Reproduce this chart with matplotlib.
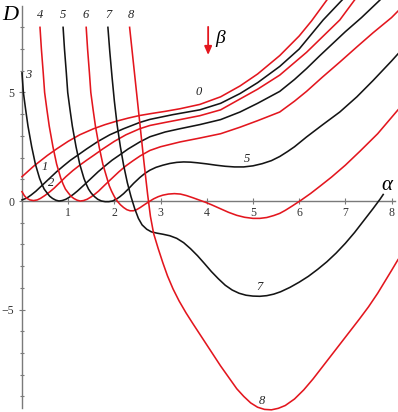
import matplotlib
matplotlib.use("Agg")
import matplotlib.pyplot as plt

RED = "#e3161e"
BLACK = "#141414"
AXIS = "#7a7a7a"

# curve beta = 0 .. 8 (alpha, D)
a0 = [0, 0.25, 0.55, 0.75, 1.0, 1.25, 1.55, 1.8, 2.05, 2.3, 2.55, 2.8, 3.1, 3.42, 3.85, 4.3, 4.72, 5.1, 5.58, 6.0, 6.27, 6.6, 6.7]
d0 = [1.12, 1.6, 2.1, 2.4, 2.75, 3.05, 3.33, 3.52, 3.68, 3.82, 3.94, 4.03, 4.13, 4.25, 4.45, 4.8, 5.3, 5.85, 6.7, 7.6, 8.3, 9.26, 9.5]

a1 = [0, 0.1, 0.2, 0.3, 0.45, 0.6, 0.75, 0.9, 1.05, 1.2, 1.4, 1.65, 1.9, 2.2, 2.55, 2.77, 3.27, 3.85, 4.3, 4.72,
      5.1, 5.58, 6.0, 6.52, 6.93, 7.0]
d1 = [0.05, 0.13, 0.28, 0.45, 0.75, 1.05, 1.35, 1.62, 1.88, 2.1, 2.4, 2.75, 3.05, 3.33, 3.62, 3.76, 3.98, 4.2, 4.5, 4.95,
      5.45, 6.2, 7.0, 8.34, 9.26, 9.4]

a2 = [0, 0.05, 0.1, 0.17, 0.25, 0.33, 0.4, 0.5, 0.6, 0.7, 0.82, 0.95, 1.1, 1.25, 1.4, 1.55, 1.75, 2.0, 2.25, 2.55,
      2.77, 3.1, 3.42, 3.85, 4.3, 4.72, 5.1, 5.58, 6.16, 6.88, 7.2, 7.3]
d2 = [0.43, 0.25, 0.13, 0.05, 0.02, 0.05, 0.12, 0.26, 0.42, 0.6, 0.85, 1.12, 1.4, 1.65, 1.88, 2.1, 2.4, 2.75, 3.05, 3.33,
      3.48, 3.62, 3.75, 3.93, 4.2, 4.7, 5.15, 5.8, 6.85, 8.34, 9.26, 9.5]

a3 = [0, 0.03, 0.08, 0.13, 0.21, 0.29, 0.38, 0.43, 0.48, 0.54, 0.6, 0.66, 0.73, 0.8, 0.87, 0.95, 1.03, 1.12, 1.2,
      1.35, 1.5, 1.65, 1.8, 1.95, 2.1, 2.3, 2.55, 2.77, 3.1, 3.42, 3.85, 4.3, 4.72, 5.1, 5.58, 5.9, 6.16, 6.45,
      6.7, 7.0, 7.35, 7.75, 7.85]
d3 = [5.9, 5.0, 4.2, 3.45, 2.5, 1.7, 1.05, 0.78, 0.55, 0.38, 0.22, 0.12, 0.04, 0.0, 0.02, 0.08, 0.18, 0.32, 0.46,
      0.75, 1.05, 1.35, 1.62, 1.88, 2.1, 2.4, 2.72, 2.96, 3.18, 3.33, 3.52, 3.75, 4.1, 4.5, 5.05, 5.6, 6.1, 6.7,
      7.2, 7.8, 8.45, 9.26, 9.5]

a4 = [0.39, 0.42, 0.46, 0.49, 0.54, 0.59, 0.67, 0.75, 0.84, 0.89, 0.94, 1.0, 1.06, 1.12, 1.19, 1.26, 1.33, 1.41,
      1.49, 1.58, 1.66, 1.8, 1.95, 2.1, 2.25, 2.4, 2.56, 2.77, 3.0, 3.42, 3.85, 4.3, 4.72, 5.1, 5.58, 5.9, 6.16,
      6.5, 6.88, 7.25, 7.6, 8.0, 8.14]
d4 = [8.0, 7.0, 5.9, 5.0, 4.2, 3.45, 2.5, 1.7, 1.05, 0.78, 0.55, 0.38, 0.22, 0.12, 0.04, 0.0, 0.02, 0.08,
      0.18, 0.32, 0.46, 0.75, 1.05, 1.35, 1.62, 1.85, 2.08, 2.33, 2.5, 2.72, 2.9, 3.1, 3.4, 3.7, 4.1, 4.6, 5.05,
      5.7, 6.4, 7.1, 7.75, 8.45, 8.75]

a5 = [0.89, 0.92, 0.96, 0.99, 1.04, 1.09, 1.17, 1.25, 1.34, 1.39, 1.44, 1.5, 1.57, 1.64, 1.72, 1.8, 1.88, 1.96,
      2.04, 2.12, 2.2, 2.3, 2.42, 2.55, 2.66, 2.77, 2.9, 3.05, 3.2, 3.35, 3.5, 3.65, 3.8, 4.0, 4.2, 4.4, 4.6,
      4.8, 5.0, 5.2, 5.4, 5.58, 5.75, 5.9, 6.16, 6.5, 6.88, 7.25, 7.6, 8.0, 8.14]
d5 = [8.0, 7.0, 5.9, 5.0, 4.2, 3.45, 2.5, 1.7, 1.05, 0.78, 0.55, 0.36, 0.2, 0.08, 0.0, -0.03, -0.03, 0.0,
      0.08, 0.2, 0.34, 0.55, 0.82, 1.08, 1.27, 1.42, 1.55, 1.65, 1.73, 1.78, 1.8, 1.79, 1.76, 1.71, 1.65, 1.6, 1.57,
      1.57, 1.62, 1.72, 1.86, 2.05, 2.28, 2.5, 2.95, 3.5, 4.1, 4.8, 5.55, 6.45, 6.78]

a6 = [1.39, 1.42, 1.46, 1.49, 1.54, 1.59, 1.67, 1.75, 1.84, 1.89, 1.94, 2.0, 2.06, 2.13, 2.2, 2.27, 2.34, 2.41,
      2.48, 2.56, 2.65, 2.75, 2.85, 2.95, 3.05, 3.17, 3.3, 3.43, 3.56, 3.7, 3.83, 3.96, 4.1, 4.29, 4.47, 4.65,
      4.82, 5.0, 5.15, 5.3, 5.45, 5.58, 5.7, 5.85, 6.05, 6.25, 6.45, 6.7, 7.0, 7.32, 7.7, 8.0, 8.14]
d6 = [8.0, 7.0, 5.9, 5.0, 4.2, 3.45, 2.5, 1.7, 1.05, 0.7, 0.45, 0.2, 0.0, -0.17, -0.3, -0.4, -0.45, -0.45,
      -0.4, -0.3, -0.17, -0.03, 0.1, 0.2, 0.27, 0.32, 0.34, 0.32, 0.25, 0.15, 0.05, -0.05, -0.17, -0.35, -0.52, -0.66,
      -0.75, -0.8, -0.8, -0.76, -0.67, -0.57, -0.43, -0.23, 0.05, 0.35, 0.68, 1.1, 1.65, 2.3, 3.1, 3.85, 4.2]

a7 = [1.86, 1.9, 1.95, 2.0, 2.06, 2.13, 2.2, 2.28, 2.36, 2.44, 2.52, 2.6, 2.7, 2.8, 2.92, 3.05, 3.2, 3.35, 3.5,
      3.65, 3.8, 3.95, 4.1, 4.25, 4.4, 4.55, 4.7, 4.85, 5.0, 5.15, 5.3, 5.45, 5.6, 5.8, 6.0, 6.2, 6.4, 6.6, 6.8,
      7.0, 7.2, 7.4, 7.6, 7.75, 7.82]
d7 = [8.0, 6.9, 5.7, 4.6, 3.5, 2.5, 1.65, 0.85, 0.2, -0.35, -0.8, -1.1, -1.3, -1.42, -1.48, -1.53, -1.6, -1.72, -1.92,
      -2.2, -2.52, -2.88, -3.25, -3.58, -3.88, -4.1, -4.25, -4.34, -4.38, -4.39, -4.36, -4.29, -4.18, -3.98, -3.74,
      -3.47, -3.15, -2.8, -2.4, -1.95, -1.45, -0.9, -0.35, 0.08, 0.3]

a8 = [2.33, 2.4, 2.48, 2.56, 2.64, 2.72, 2.78, 2.85, 2.95, 3.05, 3.15, 3.27, 3.4, 3.55, 3.7, 3.9, 4.1, 4.3, 4.5,
      4.65, 4.8, 4.95, 5.1, 5.25, 5.4, 5.55, 5.7, 5.9, 6.1, 6.3, 6.5, 6.7, 6.9, 7.1, 7.3, 7.5, 7.7, 7.9, 8.0, 8.14]
d8 = [8.0, 6.6, 5.0, 3.4, 1.8, 0.3, -0.7, -1.5, -2.2, -2.85, -3.45, -4.05, -4.6, -5.15, -5.65, -6.3, -6.95, -7.6, -8.2,
      -8.65, -9.0, -9.3, -9.5, -9.6, -9.62, -9.55, -9.42, -9.12, -8.7, -8.2, -7.65, -7.1, -6.55, -6.0, -5.45, -4.88,
      -4.25, -3.55, -3.2, -2.7]

curves = [(a0, d0), (a1, d1), (a2, d2), (a3, d3), (a4, d4), (a5, d5), (a6, d6), (a7, d7), (a8, d8)]
colors = [RED, BLACK] * 5

# curve labels: text, alpha, D
labels = [("0", 3.82, 5.04), ("1", 0.5, 1.58), ("2", 0.64, 0.82), ("3", 0.14, 5.8),
          ("4", 0.39, 8.57), ("5", 0.89, 8.57), ("6", 1.38, 8.57), ("7", 1.87, 8.57), ("8", 2.36, 8.57),
          ("5", 4.86, 1.95), ("7", 5.15, -3.95), ("8", 5.19, -9.2)]

xticks = [1, 2, 3, 4, 5, 6, 7, 8]
yticks = [-5, 0, 5]
yminor = [-9, -8, -7, -6, -4, -3, -2, -1, 1, 2, 3, 4, 6, 7, 8]

SERIF = ["Liberation Serif", "DejaVu Serif"]

fig = plt.figure(figsize=(3.98, 4.12), dpi=100)
ax = fig.add_axes([0, 0, 1, 1])
ax.set_xlim(-0.476, 8.14)
ax.set_ylim(-9.72, 9.26)

for (a, d), c in zip(curves, colors):
    ax.plot(a, d, color=c, lw=1.15, solid_joinstyle="round", zorder=3)

for s, x, y in labels:
    ax.text(x, y, s, fontsize=9, family=SERIF, style="italic", ha="center", va="center", color="#222222", zorder=4)

for side in ["top", "right"]:
    ax.spines[side].set_visible(False)
ax.spines["left"].set_position(("data", 0))
ax.spines["bottom"].set_position(("data", 0))
ax.spines["left"].set_bounds(-9.55, 9.0)
ax.spines["bottom"].set_bounds(0, 8.08)
for side in ["left", "bottom"]:
    ax.spines[side].set_color(AXIS)
    ax.spines[side].set_linewidth(1.0)

ax.set_xticks(xticks)
ax.set_xticklabels([str(t) for t in xticks])
ax.set_yticks(yticks)
ax.set_yticklabels(["\u22125", "0", "5"])
ax.set_yticks(yminor, minor=True)
ax.tick_params(axis="x", direction="inout", length=5, width=0.8, color=AXIS, pad=2,
               labelsize=8.5, labelcolor="#333333")
ax.tick_params(axis="y", direction="inout", length=5, width=0.8, color=AXIS, pad=3,
               labelsize=8.5, labelcolor="#333333")
ax.tick_params(axis="y", which="minor", direction="inout", length=3, width=0.8, color=AXIS)
for lab in ax.get_xticklabels() + ax.get_yticklabels():
    lab.set_family(SERIF)

ax.text(-0.26, 8.55, "D", fontsize=16, family=SERIF, style="italic", ha="center", va="center")
ax.text(7.9, 0.7, "\u03b1", fontsize=15, family=SERIF, style="italic", ha="center", va="center")
ax.annotate("", xy=(4.03, 6.6), xytext=(4.03, 8.15),
            arrowprops=dict(arrowstyle="-|>,head_length=0.5,head_width=0.22", color=RED, lw=1.3))
ax.text(4.3, 7.5, "\u03b2", fontsize=14, family=SERIF, style="italic", ha="center", va="center")

fig.savefig("out.png", dpi=100)
